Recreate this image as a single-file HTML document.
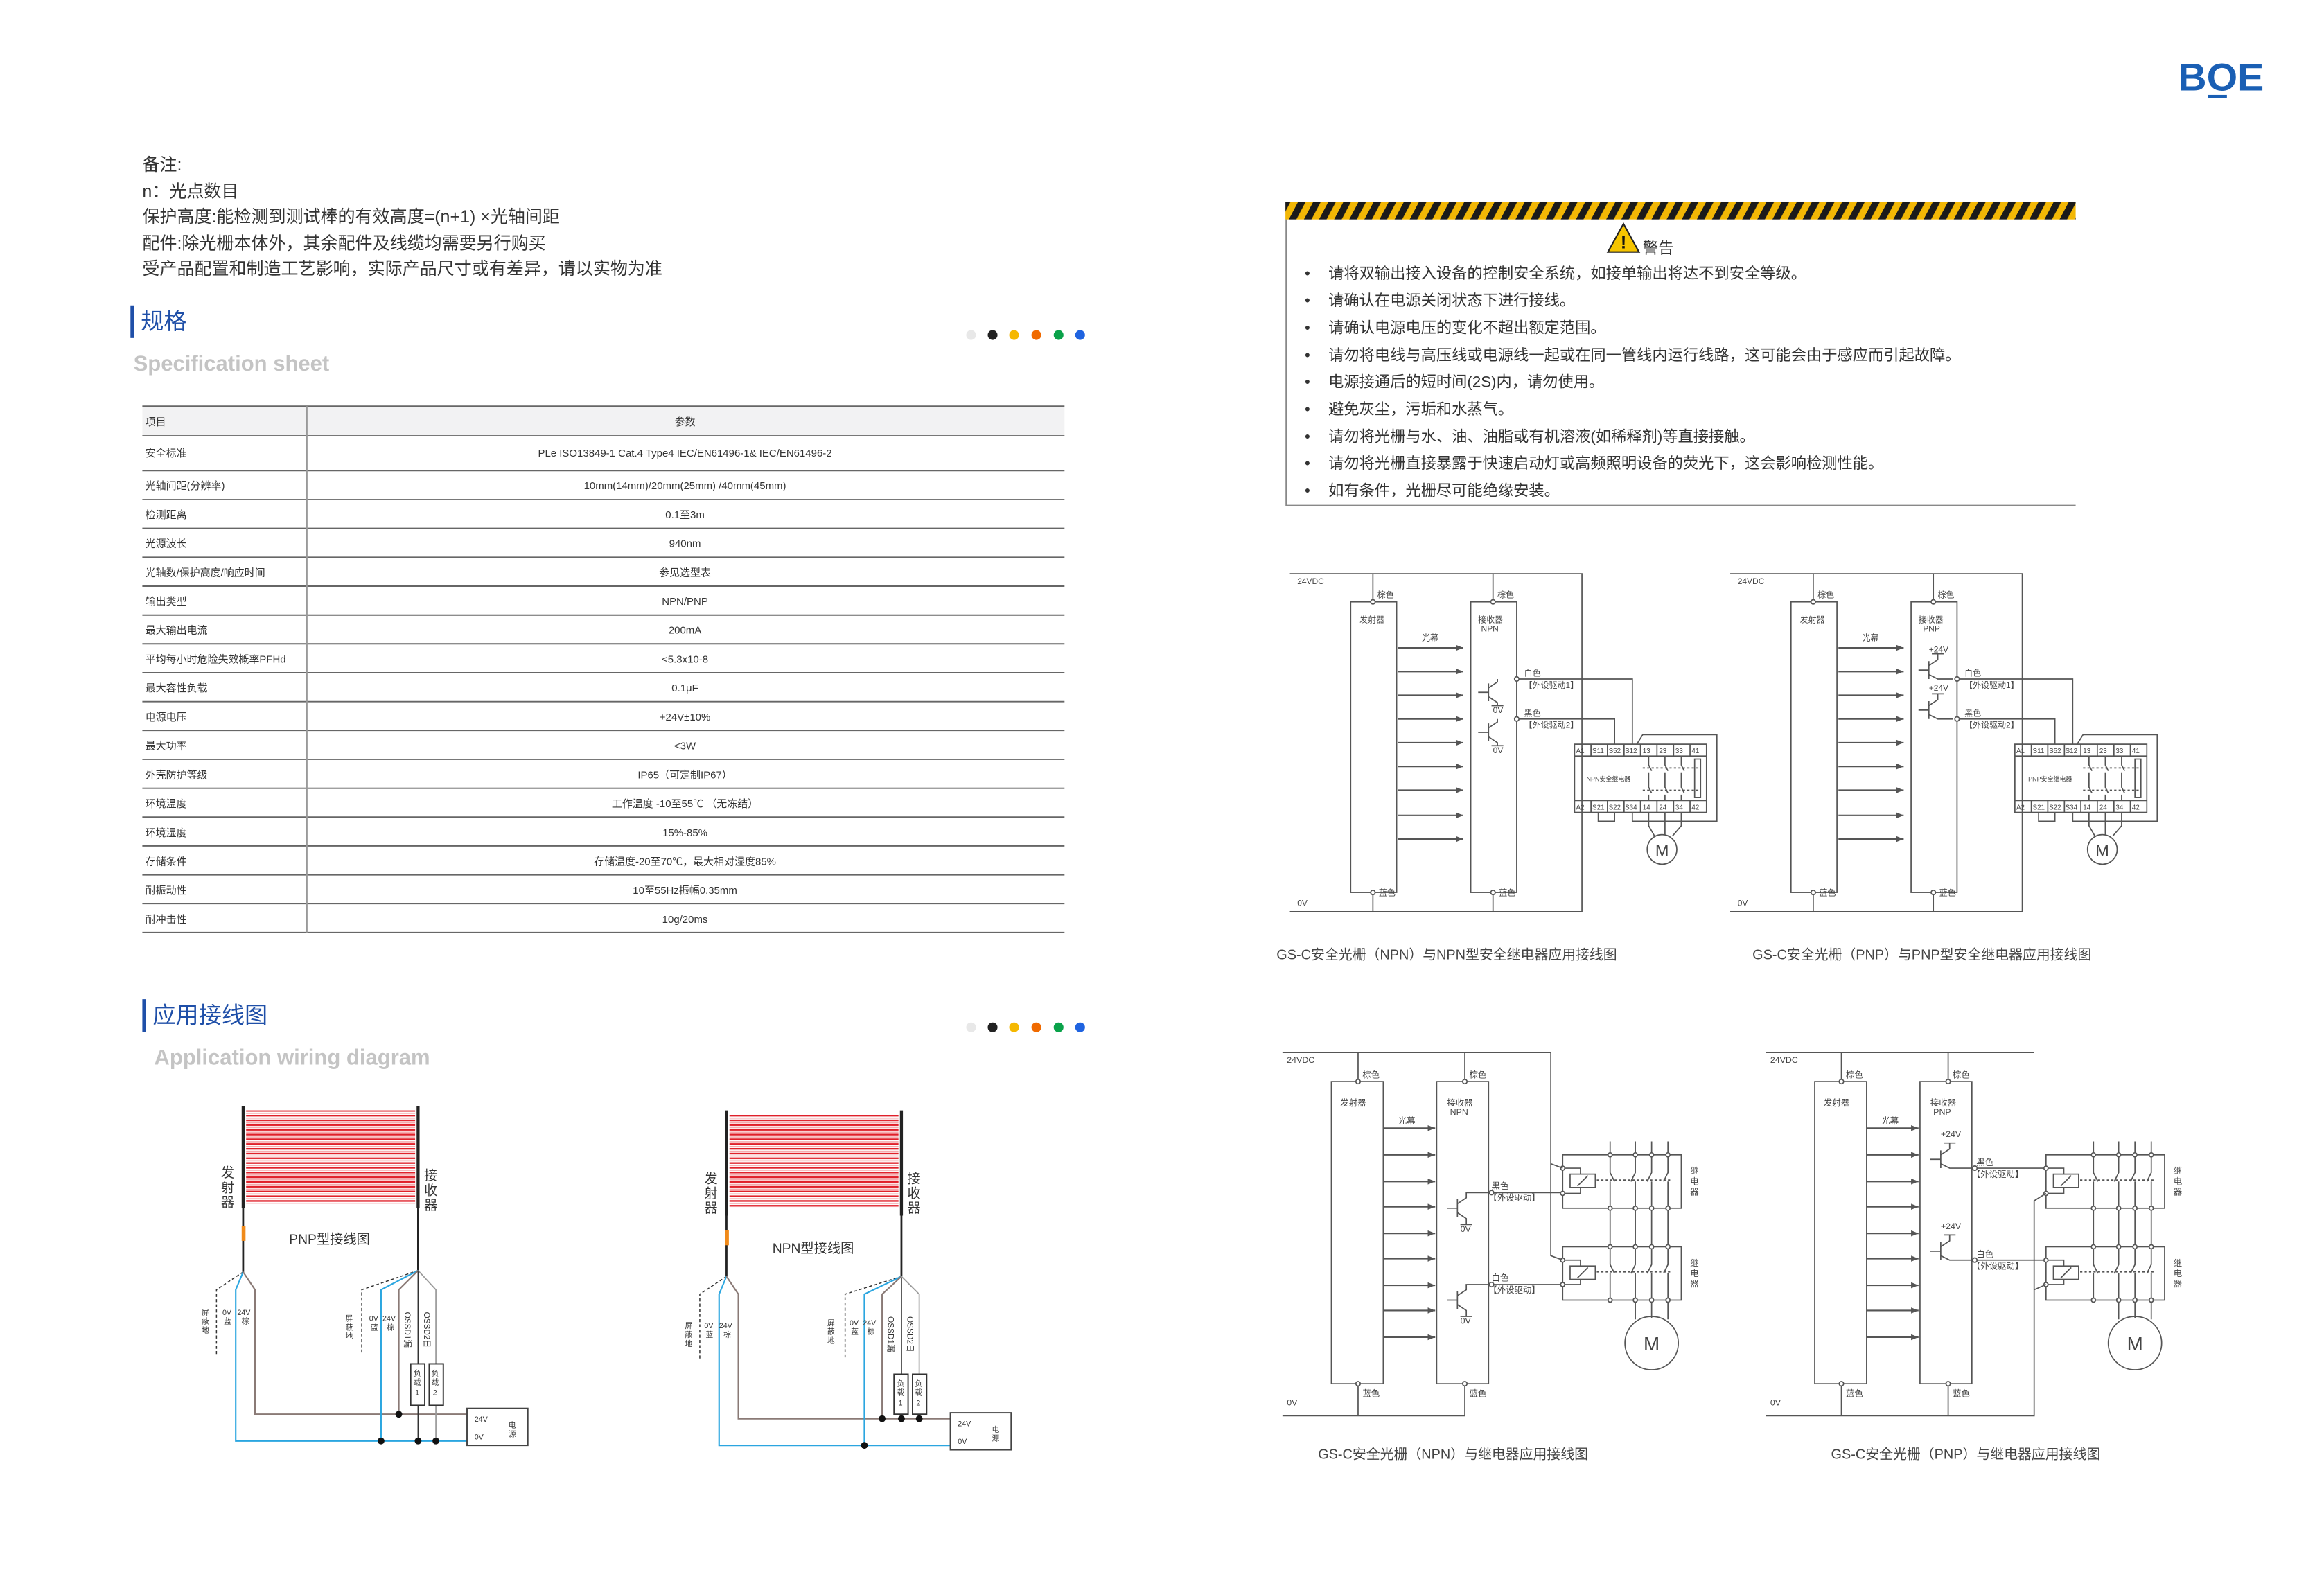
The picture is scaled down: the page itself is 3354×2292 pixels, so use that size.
<!DOCTYPE html>
<html><head><meta charset="utf-8">
<style>
html,body{margin:0;padding:0;background:#fff;}
svg{display:block;}
text{font-family:"Liberation Sans","Noto Sans CJK SC",sans-serif;}
</style></head>
<body>
<svg width="3354" height="2292" viewBox="0 0 1567.5 1071.2" preserveAspectRatio="none" xmlns="http://www.w3.org/2000/svg">
<defs>
<pattern id="warn" width="9" height="20" patternUnits="userSpaceOnUse" patternTransform="rotate(28)">
<rect width="9" height="20" fill="#f2b705"/><rect width="4.5" height="20" fill="#1a1a1a"/>
</pattern>
<pattern id="rs" width="10" height="3.2" patternUnits="userSpaceOnUse">
<rect width="10" height="3.2" fill="#fff"/><rect y="0" width="10" height="1.1" fill="#e0202a"/><rect y="1.8" width="10" height="0.8" fill="#f5aaae"/>
</pattern>
<marker id="ah" markerWidth="6" markerHeight="6" refX="5" refY="3" orient="auto" markerUnits="userSpaceOnUse"><path d="M0,1 L5,3 L0,5 z" fill="#555"/></marker>

<g id="tg" stroke="#555" stroke-width="0.8" fill="none">
<path d="M870,387 H1067 V615 H870"/>
<rect x="911" y="406" width="31" height="196"/>
<rect x="992" y="406" width="31" height="196"/>
<path d="M926,387 V406 M926,602 V615 M1007,387 V406 M1007,602 V615"/>
<circle cx="926" cy="406" r="1.5" fill="#fff"/><circle cx="926" cy="602" r="1.5" fill="#fff"/>
<circle cx="1007" cy="406" r="1.5" fill="#fff"/><circle cx="1007" cy="602" r="1.5" fill="#fff"/>
<g marker-end="url(#ah)" stroke-width="1">
<path d="M943,437 H987"/><path d="M943,453 H987"/><path d="M943,469 H987"/><path d="M943,485 H987"/><path d="M943,501 H987"/><path d="M943,517 H987"/><path d="M943,533 H987"/><path d="M943,550 H987"/><path d="M943,566 H987"/>
</g>
<path d="M1024.5,458 H1101 V502 M1024.5,485 H1089 V502"/>
<circle cx="1023" cy="458" r="1.5" fill="#fff"/><circle cx="1023" cy="485" r="1.5" fill="#fff"/>
<rect x="1062" y="502" width="89" height="46"/>
<path d="M1062,510 H1151 M1062,540 H1151"/>
<path d="M1073.1,502 V510 M1084.2,502 V510 M1095.4,502 V510 M1106.5,502 V510 M1117.6,502 V510 M1128.8,502 V510 M1139.9,502 V510"/>
<path d="M1073.1,540 V548 M1084.2,540 V548 M1095.4,540 V548 M1106.5,540 V548 M1117.6,540 V548 M1128.8,540 V548 M1139.9,540 V548"/>
<path d="M1112,510 V516 L1114,520 M1112,521 V531 L1114,535 M1112,536 V540 M1123,510 V516 L1125,520 M1123,521 V531 L1125,535 M1123,536 V540 M1134,510 V516 L1136,520 M1134,521 V531 L1136,535 M1134,536 V540"/>
<rect x="1143" y="512" width="4" height="26"/>
<path d="M1108,518 H1146 M1108,533 H1146" stroke-dasharray="1.5,1.5"/>
<path d="M1104,502 L1108,495.6 H1158 V554 H1101 V548"/>
<path d="M1078,548 V554 H1089 V548"/>
<path d="M1112,548 V557 L1116,564 M1123,548 V563 M1134,548 V557 L1128,564"/>
<circle cx="1121" cy="573" r="10"/>
</g>

<g id="bg" stroke="#555" stroke-width="0.8" fill="none">
<path d="M865,710 H1046"/>
<path d="M865,955 H988"/>
<rect x="898" y="729.6" width="35" height="203.8"/>
<rect x="969" y="729.6" width="35" height="203.8"/>
<path d="M916,710 V729.6 M916,933.4 V955 M988,710 V729.6 M988,933.4 V955"/>
<circle cx="916" cy="729.6" r="1.5" fill="#fff"/><circle cx="916" cy="933.4" r="1.5" fill="#fff"/>
<circle cx="988" cy="729.6" r="1.5" fill="#fff"/><circle cx="988" cy="933.4" r="1.5" fill="#fff"/>
<g marker-end="url(#ah)" stroke-width="1">
<path d="M933,761 H968"/><path d="M933,779 H968"/><path d="M933,797 H968"/><path d="M933,814 H968"/><path d="M933,832 H968"/><path d="M933,849 H968"/><path d="M933,867 H968"/><path d="M933,884 H968"/><path d="M933,902 H968"/>
</g>
<rect x="1054" y="779" width="80" height="36"/>
<rect x="1054" y="841" width="80" height="36"/>
<path d="M1086,770 V791 L1089,797 M1086,797 V815 V841 V853 L1089,859 M1086,859 V877"/>
<path d="M1103,770 V791 L1100,797 M1103,797 V815 V841 V853 L1100,859 M1103,859 V877 V890"/>
<path d="M1114,770 V791 L1111,797 M1114,797 V815 V841 V853 L1111,859 M1114,859 V877 V889"/>
<path d="M1125,770 V791 L1122,797 M1125,797 V815 V841 V853 L1122,859 M1125,859 V877 V890"/>
<path d="M1077,796 H1128 M1077,858 H1128" stroke-dasharray="1.5,1.5"/>
<rect x="1059" y="792" width="17" height="9"/><path d="M1064,800 L1071,793"/>
<rect x="1059" y="854" width="17" height="9"/><path d="M1064,862 L1071,855"/>
<path d="M1054,788 H1066 V792 M1054,805 H1066 V801 M1054,850 H1066 V854 M1054,866.5 H1066 V863"/>
<g fill="#fff">
<circle cx="1086" cy="779" r="1.4"/><circle cx="1103" cy="779" r="1.4"/><circle cx="1114" cy="779" r="1.4"/><circle cx="1125" cy="779" r="1.4"/>
<circle cx="1086" cy="815" r="1.4"/><circle cx="1103" cy="815" r="1.4"/><circle cx="1114" cy="815" r="1.4"/><circle cx="1125" cy="815" r="1.4"/>
<circle cx="1086" cy="841" r="1.4"/><circle cx="1103" cy="841" r="1.4"/><circle cx="1114" cy="841" r="1.4"/><circle cx="1125" cy="841" r="1.4"/>
<circle cx="1086" cy="877" r="1.4"/><circle cx="1103" cy="877" r="1.4"/><circle cx="1114" cy="877" r="1.4"/><circle cx="1125" cy="877" r="1.4"/>
<circle cx="1054" cy="788" r="1.4"/><circle cx="1054" cy="805" r="1.4"/><circle cx="1054" cy="850" r="1.4"/><circle cx="1054" cy="866.5" r="1.4"/>
</g>
<circle cx="1114" cy="906" r="18"/>
</g>
</defs>

<text x="1469" y="61" font-size="26" fill="#1a5fb4" textLength="58" lengthAdjust="spacingAndGlyphs" font-weight="bold">BOE</text>
<rect x="1489" y="64" width="13" height="2.2" fill="#1a5fb4"/>

<g font-size="11.7" fill="#333">
<text x="96" y="115">备注:</text>
<text x="96" y="133">n：光点数目</text>
<text x="96" y="150">保护高度:能检测到测试棒的有效高度=(n+1) ×光轴间距</text>
<text x="96" y="168">配件:除光栅本体外，其余配件及线缆均需要另行购买</text>
<text x="96" y="185">受产品配置和制造工艺影响，实际产品尺寸或有差异，请以实物为准</text>
</g>

<rect x="88" y="206" width="2.4" height="22" fill="#1f4fa8"/>
<text x="95" y="222" font-size="15.5" fill="#1f4fa8">规格</text>
<text x="90" y="250" font-size="14.5" font-weight="bold" fill="#c4c4c4">Specification sheet</text>
<g>
<circle cx="655" cy="226" r="3.3" fill="#e8e8e8"/><circle cx="669.5" cy="226" r="3.3" fill="#222"/><circle cx="684" cy="226" r="3.3" fill="#f5b800"/><circle cx="699" cy="226" r="3.3" fill="#f06a00"/><circle cx="714" cy="226" r="3.3" fill="#0aa24a"/><circle cx="728.5" cy="226" r="3.3" fill="#1f63e0"/>
</g>

<rect x="96" y="274" width="622" height="20" fill="#f2f2f3"/>
<g stroke="#666" stroke-width="0.9">
<path d="M96,274 H718 M96,294 H718 M96,317.5 H718 M96,337 H718 M96,356.4 H718 M96,375.9 H718 M96,395.4 H718 M96,414.9 H718 M96,434.3 H718 M96,453.8 H718 M96,473.3 H718 M96,492.7 H718 M96,512.2 H718 M96,531.7 H718 M96,551.1 H718 M96,570.6 H718 M96,590.1 H718 M96,609.5 H718 M96,629 H718"/>
<path d="M207,274 V629" stroke="#999"/>
</g>
<g font-size="7" fill="#333">
<text x="98" y="287">项目</text>
<text x="98" y="308">安全标准</text>
<text x="98" y="330">光轴间距(分辨率)</text>
<text x="98" y="349.5">检测距离</text>
<text x="98" y="369">光源波长</text>
<text x="98" y="388.5">光轴数/保护高度/响应时间</text>
<text x="98" y="408">输出类型</text>
<text x="98" y="427.5">最大输出电流</text>
<text x="98" y="447">平均每小时危险失效概率PFHd</text>
<text x="98" y="466.5">最大容性负载</text>
<text x="98" y="486">电源电压</text>
<text x="98" y="505.5">最大功率</text>
<text x="98" y="525">外壳防护等级</text>
<text x="98" y="544.5">环境温度</text>
<text x="98" y="564">环境湿度</text>
<text x="98" y="583.5">存储条件</text>
<text x="98" y="603">耐振动性</text>
<text x="98" y="622.5">耐冲击性</text>
</g>
<g font-size="7" fill="#333" text-anchor="middle">
<text x="462" y="287">参数</text>
<text x="462" y="308">PLe ISO13849-1 Cat.4 Type4 IEC/EN61496-1&amp; IEC/EN61496-2</text>
<text x="462" y="330">10mm(14mm)/20mm(25mm) /40mm(45mm)</text>
<text x="462" y="349.5">0.1至3m</text>
<text x="462" y="369">940nm</text>
<text x="462" y="388.5">参见选型表</text>
<text x="462" y="408">NPN/PNP</text>
<text x="462" y="427.5">200mA</text>
<text x="462" y="447">&lt;5.3x10-8</text>
<text x="462" y="466.5">0.1μF</text>
<text x="462" y="486">+24V±10%</text>
<text x="462" y="505.5">&lt;3W</text>
<text x="462" y="525">IP65（可定制IP67）</text>
<text x="462" y="544.5">工作温度 -10至55℃ （无冻结）</text>
<text x="462" y="564">15%-85%</text>
<text x="462" y="583.5">存储温度-20至70℃，最大相对湿度85%</text>
<text x="462" y="603">10至55Hz振幅0.35mm</text>
<text x="462" y="622.5">10g/20ms</text>
</g>

<rect x="96" y="674" width="2.4" height="22" fill="#1f4fa8"/>
<text x="103" y="690" font-size="15.5" fill="#1f4fa8">应用接线图</text>
<text x="104" y="718" font-size="14.5" font-weight="bold" fill="#c4c4c4">Application wiring diagram</text>
<g>
<circle cx="655" cy="693" r="3.3" fill="#e8e8e8"/><circle cx="669.5" cy="693" r="3.3" fill="#222"/><circle cx="684" cy="693" r="3.3" fill="#f5b800"/><circle cx="699" cy="693" r="3.3" fill="#f06a00"/><circle cx="714" cy="693" r="3.3" fill="#0aa24a"/><circle cx="728.5" cy="693" r="3.3" fill="#1f63e0"/>
</g>

<rect x="867" y="136" width="533" height="12" fill="url(#warn)"/>
<path d="M867.5,148 V341 H1400" stroke="#888" stroke-width="0.9" fill="none"/>
<path d="M1095,151 L1084.5,170 H1105.5 Z" fill="#f5c400" stroke="#222" stroke-width="1"/>
<text x="1095" y="167.5" font-size="12" font-weight="bold" text-anchor="middle" fill="#111">!</text>
<text x="1108" y="171" font-size="10.5" fill="#333">警告</text>
<g font-size="10.4" fill="#333">
<text x="880" y="188">•</text><text x="896" y="188">请将双输出接入设备的控制安全系统，如接单输出将达不到安全等级。</text>
<text x="880" y="206">•</text><text x="896" y="206">请确认在电源关闭状态下进行接线。</text>
<text x="880" y="224.5">•</text><text x="896" y="224.5">请确认电源电压的变化不超出额定范围。</text>
<text x="880" y="243">•</text><text x="896" y="243">请勿将电线与高压线或电源线一起或在同一管线内运行线路，这可能会由于感应而引起故障。</text>
<text x="880" y="261">•</text><text x="896" y="261">电源接通后的短时间(2S)内，请勿使用。</text>
<text x="880" y="279.5">•</text><text x="896" y="279.5">避免灰尘，污垢和水蒸气。</text>
<text x="880" y="298">•</text><text x="896" y="298">请勿将光栅与水、油、油脂或有机溶液(如稀释剂)等直接接触。</text>
<text x="880" y="316">•</text><text x="896" y="316">请勿将光栅直接暴露于快速启动灯或高频照明设备的荧光下，这会影响检测性能。</text>
<text x="880" y="334.5">•</text><text x="896" y="334.5">如有条件，光栅尽可能绝缘安装。</text>
</g>

<use href="#tg"/>
<use href="#tg" x="297"/>
<g stroke="#555" stroke-width="0.8" fill="none">
<path d="M1004,461 V473 M997,467 H1004 M1004,464 L1010,460 V458 M1004,470 L1010,474 V476 M1006,476 H1014"/>
<path d="M1004,488 V500 M997,494 H1004 M1004,491 L1010,487 V485 M1004,497 L1010,501 V503 M1006,503 H1014"/>
<path d="M1301,446 V458 M1294,452 H1301 M1301,449 L1307,445 V441 M1303,441 H1311 M1301,455 L1307,458 H1317"/>
<path d="M1301,473 V485 M1294,479 H1301 M1301,476 L1307,472 V468 M1303,468 H1311 M1301,482 L1307,485 H1317"/>
</g>
<g font-size="5.6" fill="#444">
<text x="875" y="394">24VDC</text><text x="875" y="611">0V</text>
<text x="929" y="403">棕色</text><text x="1010" y="403">棕色</text>
<text x="930" y="604">蓝色</text><text x="1011" y="604">蓝色</text>
<text x="917" y="420">发射器</text><text x="997" y="420">接收器</text><text x="999" y="426">NPN</text>
<text x="959" y="432">光幕</text>
<text x="1028" y="456">白色</text><text x="1028" y="464">【外设驱动1】</text>
<text x="1028" y="483">黑色</text><text x="1028" y="491">【外设驱动2】</text>
<text x="1007" y="481">0V</text><text x="1007" y="508">0V</text>
<g font-size="4.6"><text x="1063" y="508">A1</text><text x="1074" y="508">S11</text><text x="1085" y="508">S52</text><text x="1096" y="508">S12</text><text x="1108" y="508">13</text><text x="1119" y="508">23</text><text x="1130" y="508">33</text><text x="1141" y="508">41</text>
<text x="1063" y="546">A2</text><text x="1074" y="546">S21</text><text x="1085" y="546">S22</text><text x="1096" y="546">S34</text><text x="1108" y="546">14</text><text x="1119" y="546">24</text><text x="1130" y="546">34</text><text x="1141" y="546">42</text>
<text x="1070" y="527" font-size="4.2">NPN安全继电器</text></g>
<text x="1121" y="577.5" font-size="11" text-anchor="middle">M</text>

<text x="1172" y="394">24VDC</text><text x="1172" y="611">0V</text>
<text x="1226" y="403">棕色</text><text x="1307" y="403">棕色</text>
<text x="1227" y="604">蓝色</text><text x="1308" y="604">蓝色</text>
<text x="1214" y="420">发射器</text><text x="1294" y="420">接收器</text><text x="1297" y="426">PNP</text>
<text x="1256" y="432">光幕</text>
<text x="1301" y="440">+24V</text><text x="1301" y="466">+24V</text>
<text x="1325" y="456">白色</text><text x="1325" y="464">【外设驱动1】</text>
<text x="1325" y="483">黑色</text><text x="1325" y="491">【外设驱动2】</text>
<g font-size="4.6"><text x="1360" y="508">A1</text><text x="1371" y="508">S11</text><text x="1382" y="508">S52</text><text x="1393" y="508">S12</text><text x="1405" y="508">13</text><text x="1416" y="508">23</text><text x="1427" y="508">33</text><text x="1438" y="508">41</text>
<text x="1360" y="546">A2</text><text x="1371" y="546">S21</text><text x="1382" y="546">S22</text><text x="1393" y="546">S34</text><text x="1405" y="546">14</text><text x="1416" y="546">24</text><text x="1427" y="546">34</text><text x="1438" y="546">42</text>
<text x="1368" y="527" font-size="4.2">PNP安全继电器</text></g>
<text x="1418" y="577.5" font-size="11" text-anchor="middle">M</text>
</g>
<g font-size="9.3" fill="#444">
<text x="861" y="647">GS-C安全光栅（NPN）与NPN型安全继电器应用接线图</text>
<text x="1182" y="647">GS-C安全光栅（PNP）与PNP型安全继电器应用接线图</text>
</g>

<use href="#bg"/>
<use href="#bg" x="326"/>
<g stroke="#555" stroke-width="0.8" fill="none">
<path d="M1046,710 V847 L1054,850 M1046,785 L1054,788"/>
<path d="M1007.5,804.5 H1052.6 M1007.5,866.5 H1052.6"/>
<path d="M983,809 V821 M976,815 H983 M983,812 L989,808 V804.5 H1004.5 M983,818 L989,822 V826 M985,826 H993"/>
<path d="M983,871 V883 M976,877 H983 M983,874 L989,870 V866.5 H1004.5 M983,880 L989,884 V888 M985,888 H993"/>
<circle cx="1006" cy="804.5" r="1.5" fill="#fff"/><circle cx="1006" cy="866.5" r="1.5" fill="#fff"/>
<path d="M1314,955 H1372 V810 L1380,805 M1372,870 L1380,866.5"/>
<path d="M1333.5,788 H1378.6 M1333.5,850 H1378.6"/>
<path d="M1309,776 V788 M1302,782 H1309 M1309,779 L1315,775 V771 M1311,771 H1319 M1309,785 L1315,788 H1330.5"/>
<path d="M1309,838 V850 M1302,844 H1309 M1309,841 L1315,837 V833 M1311,833 H1319 M1309,847 L1315,850 H1330.5"/>
<circle cx="1332" cy="788" r="1.5" fill="#fff"/><circle cx="1332" cy="850" r="1.5" fill="#fff"/>
</g>
<g font-size="5.8" fill="#444">
<text x="868" y="717">24VDC</text><text x="868" y="948">0V</text>
<text x="919" y="727">棕色</text><text x="991" y="727">棕色</text>
<text x="919" y="942">蓝色</text><text x="991" y="942">蓝色</text>
<text x="904" y="746">发射器</text><text x="976" y="746">接收器</text><text x="978" y="752">NPN</text>
<text x="943" y="758">光幕</text>
<text x="1006" y="802">黑色</text><text x="1004" y="810">【外设驱动】</text>
<text x="1006" y="864">白色</text><text x="1004" y="872">【外设驱动】</text>
<text x="985" y="831">0V</text><text x="985" y="893">0V</text>
<text x="1140" y="792">继</text><text x="1140" y="799">电</text><text x="1140" y="806">器</text>
<text x="1140" y="854">继</text><text x="1140" y="861">电</text><text x="1140" y="868">器</text>
<text x="1114" y="911" font-size="13" text-anchor="middle">M</text>

<text x="1194" y="717">24VDC</text><text x="1194" y="948">0V</text>
<text x="1245" y="727">棕色</text><text x="1317" y="727">棕色</text>
<text x="1245" y="942">蓝色</text><text x="1317" y="942">蓝色</text>
<text x="1230" y="746">发射器</text><text x="1302" y="746">接收器</text><text x="1304" y="752">PNP</text>
<text x="1269" y="758">光幕</text>
<text x="1309" y="767">+24V</text><text x="1309" y="829">+24V</text>
<text x="1333" y="786">黑色</text><text x="1330" y="794">【外设驱动】</text>
<text x="1333" y="848">白色</text><text x="1330" y="856">【外设驱动】</text>
<text x="1466" y="792">继</text><text x="1466" y="799">电</text><text x="1466" y="806">器</text>
<text x="1466" y="854">继</text><text x="1466" y="861">电</text><text x="1466" y="868">器</text>
<text x="1440" y="911" font-size="13" text-anchor="middle">M</text>
</g>
<g font-size="9.3" fill="#444">
<text x="889" y="984">GS-C安全光栅（NPN）与继电器应用接线图</text>
<text x="1235" y="984">GS-C安全光栅（PNP）与继电器应用接线图</text>
</g>

<rect x="166" y="749" width="114" height="63" fill="url(#rs)"/>
<g fill="none" stroke-width="1.3">
<path d="M164,746 V815" stroke="#222" stroke-width="2"/>
<path d="M282,746 V815" stroke="#222" stroke-width="2"/>
<path d="M164,815 V858" stroke="#222"/>
<rect x="163" y="827" width="2.6" height="10" fill="#f08a1a" stroke="none"/>
<path d="M282,815 V857" stroke="#222"/>
<path d="M164,858 L146,870 V914" stroke="#333" stroke-width="0.7" stroke-dasharray="2,1.5"/>
<path d="M164,858 L159,870 V972 H315" stroke="#2ba6e0" stroke-width="1"/>
<path d="M164,858 L172,870 V954 H315" stroke="#8a7a76" stroke-width="1"/>
<path d="M282,857 L244,870 V914" stroke="#333" stroke-width="0.7" stroke-dasharray="2,1.5"/>
<path d="M282,857 L257,870 V972" stroke="#2ba6e0" stroke-width="1"/>
<path d="M282,857 L269,870 V954" stroke="#8a7a76" stroke-width="1"/>
<path d="M282,857 V972" stroke="#333" stroke-width="0.8"/>
<path d="M282,857 L294,870 V972" stroke="#999" stroke-width="0.8"/>
</g>
<rect x="277" y="920" width="9.5" height="28" fill="#fff" stroke="#333" stroke-width="0.9"/>
<rect x="289.5" y="920" width="9.5" height="28" fill="#fff" stroke="#333" stroke-width="0.9"/>
<rect x="315" y="950" width="41" height="25" fill="#fff" stroke="#444" stroke-width="0.9"/>
<g fill="#111"><circle cx="269" cy="954" r="2.3"/><circle cx="257" cy="972" r="2.3"/><circle cx="282" cy="972" r="2.3"/><circle cx="294" cy="972" r="2.3"/></g>
<rect x="492" y="752" width="114" height="63" fill="url(#rs)"/>
<g fill="none" stroke-width="1.3">
<path d="M490,749 V820" stroke="#222" stroke-width="2"/>
<path d="M608,749 V820" stroke="#222" stroke-width="2"/>
<path d="M490,820 V861" stroke="#222"/>
<rect x="489" y="830" width="2.6" height="10" fill="#f08a1a" stroke="none"/>
<path d="M608,820 V861" stroke="#222"/>
<path d="M490,861 L472,873 V917" stroke="#333" stroke-width="0.7" stroke-dasharray="2,1.5"/>
<path d="M490,861 L485,873 V975 H641" stroke="#2ba6e0" stroke-width="1"/>
<path d="M490,861 L498,873 V957 H641" stroke="#8a7a76" stroke-width="1"/>
<path d="M608,861 L570,873 V917" stroke="#333" stroke-width="0.7" stroke-dasharray="2,1.5"/>
<path d="M608,861 L583,873 V975" stroke="#2ba6e0" stroke-width="1"/>
<path d="M608,861 L595,873 V957" stroke="#8a7a76" stroke-width="1"/>
<path d="M608,861 V957" stroke="#333" stroke-width="0.8"/>
<path d="M608,861 L620,873 V957" stroke="#999" stroke-width="0.8"/>
</g>
<rect x="603" y="927" width="9.5" height="27" fill="#fff" stroke="#333" stroke-width="0.9"/>
<rect x="615.5" y="927" width="9.5" height="27" fill="#fff" stroke="#333" stroke-width="0.9"/>
<rect x="641" y="953" width="41" height="25" fill="#fff" stroke="#444" stroke-width="0.9"/>
<g fill="#111"><circle cx="595" cy="957" r="2.3"/><circle cx="608" cy="957" r="2.3"/><circle cx="620" cy="957" r="2.3"/><circle cx="583" cy="975" r="2.3"/></g>

<g fill="#333">
<text x="195" y="839" font-size="9">PNP型接线图</text>
<text x="521" y="845" font-size="9">NPN型接线图</text>
<g font-size="9">
<text x="149" y="794">发</text><text x="149" y="804">射</text><text x="149" y="814">器</text>
<text x="286" y="796">接</text><text x="286" y="806">收</text><text x="286" y="816">器</text>
<text x="475" y="798">发</text><text x="475" y="808">射</text><text x="475" y="818">器</text>
<text x="612" y="798">接</text><text x="612" y="808">收</text><text x="612" y="818">器</text>
</g>
<g font-size="5">
<text x="136" y="887">屏</text><text x="136" y="893">蔽</text><text x="136" y="899">地</text>
<text x="150" y="887">0V</text><text x="151" y="893">蓝</text>
<text x="160" y="887">24V</text><text x="163" y="893">棕</text>
<text x="233" y="891">屏</text><text x="233" y="897">蔽</text><text x="233" y="903">地</text>
<text x="249" y="891">0V</text><text x="250" y="897">蓝</text>
<text x="258" y="891">24V</text><text x="261" y="897">棕</text>
<text x="462" y="896">屏</text><text x="462" y="902">蔽</text><text x="462" y="908">地</text>
<text x="475" y="896">0V</text><text x="476" y="902">蓝</text>
<text x="485" y="896">24V</text><text x="488" y="902">棕</text>
<text x="558" y="894">屏</text><text x="558" y="900">蔽</text><text x="558" y="906">地</text>
<text x="573" y="894">0V</text><text x="574" y="900">蓝</text>
<text x="582" y="894">24V</text><text x="585" y="900">棕</text>
<text x="279" y="928">负</text><text x="279" y="934">载</text><text x="280" y="941">1</text>
<text x="291" y="928">负</text><text x="291" y="934">载</text><text x="292" y="941">2</text>
<text x="605" y="935">负</text><text x="605" y="941">载</text><text x="606" y="948">1</text>
<text x="617" y="935">负</text><text x="617" y="941">载</text><text x="618" y="948">2</text>
<text x="320" y="959">24V</text><text x="320" y="971">0V</text>
<text x="343" y="963">电</text><text x="343" y="969">源</text>
<text x="646" y="962">24V</text><text x="646" y="974">0V</text>
<text x="669" y="966">电</text><text x="669" y="972">源</text>
</g>
<g font-size="5.5">
<text transform="translate(273,885) rotate(90)">OSSD1漏</text>
<text transform="translate(286,885) rotate(90)">OSSD2日</text>
<text transform="translate(599,888) rotate(90)">OSSD1漏</text>
<text transform="translate(612,888) rotate(90)">OSSD2日</text>
</g>
</g>
</svg>
</body></html>
